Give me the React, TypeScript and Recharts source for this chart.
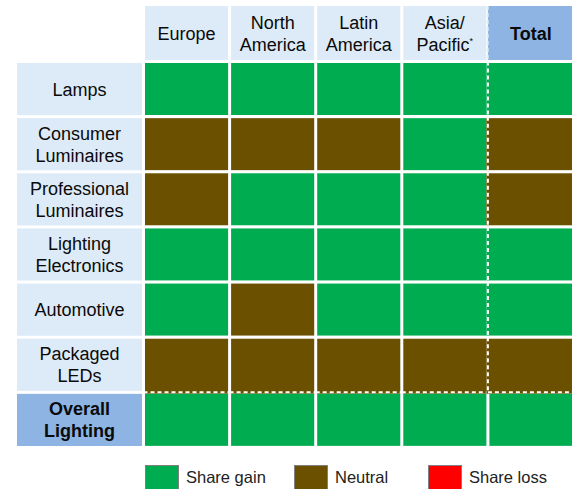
import { BarChart, Bar, XAxis, YAxis, Legend } from "recharts";

const ROWS = [
  "Lamps",
  "Consumer Luminaires",
  "Professional Luminaires",
  "Lighting Electronics",
  "Automotive",
  "Packaged LEDs",
  "Overall Lighting",
];
const ROW_LINES = [
  ["Lamps"],
  ["Consumer", "Luminaires"],
  ["Professional", "Luminaires"],
  ["Lighting", "Electronics"],
  ["Automotive"],
  ["Packaged", "LEDs"],
  ["Overall", "Lighting"],
];

const COLUMNS = ["Europe", "North America", "Latin America", "Asia/Pacific", "Total"];
const COLUMN_KEYS = ["europe", "northAmerica", "latinAmerica", "asiaPacific", "total"];
const COLUMN_LINES = [["Europe"], ["North", "America"], ["Latin", "America"], ["Asia/", "Pacific"], ["Total"]];

// share development per region, one entry per row
const EUROPE = ["gain", "neutral", "neutral", "gain", "gain", "neutral", "gain"];
const NORTH_AMERICA = ["gain", "neutral", "gain", "gain", "neutral", "neutral", "gain"];
const LATIN_AMERICA = ["gain", "neutral", "gain", "gain", "gain", "neutral", "gain"];
const ASIA_PACIFIC = ["gain", "gain", "gain", "gain", "gain", "neutral", "gain"];
const TOTAL = ["gain", "neutral", "neutral", "gain", "gain", "neutral", "gain"];
const STATUS = [EUROPE, NORTH_AMERICA, LATIN_AMERICA, ASIA_PACIFIC, TOTAL];

const LEGEND_ITEMS = [
  { key: "gain", label: "Share gain" },
  { key: "neutral", label: "Neutral" },
  { key: "loss", label: "Share loss" },
];

const COLORS: Record<string, string> = {
  gain: "#00AC50",
  neutral: "#6B5000",
  loss: "#FF0000",
};

const LIGHT_BLUE = "#DDEBF8";
const DARK_BLUE = "#8DB4E2";
const FONT = "'Liberation Sans', Arial, sans-serif";

const W = 574;
const H = 489;
const PLOT_LEFT = 143.5;
const PLOT_TOP = 61.5;
const PLOT_BOTTOM = 447.5;
const LEGEND_H = 25;
const ROW_H = (PLOT_BOTTOM - PLOT_TOP) / ROWS.length;
const COL_W = (W - PLOT_LEFT) / COLUMNS.length;
const GAP = 1.5;

const data = ROWS.map((row, i) => {
  const d: Record<string, any> = { row, idx: i };
  COLUMN_KEYS.forEach((k) => (d[k] = 1));
  return d;
});

const RowTick = (props: any) => {
  const { y, payload } = props;
  const i = ROWS.indexOf(payload.value);
  const lines = ROW_LINES[i];
  const bold = i === ROWS.length - 1;
  const top = y - ROW_H / 2 + GAP;
  return (
    <g>
      <rect x={17} y={top} width={125} height={ROW_H - 2 * GAP} fill={bold ? DARK_BLUE : LIGHT_BLUE} />
      <text
        x={79.5}
        textAnchor="middle"
        fontFamily={FONT}
        fontSize={18}
        fontWeight={bold ? "bold" : "normal"}
        fill="#0a0a0a"
      >
        {lines.map((l, k) => (
          <tspan key={k} x={79.5} y={y + 6.5 + (k - (lines.length - 1) / 2) * 22}>
            {l}
          </tspan>
        ))}
      </text>
    </g>
  );
};

const HeaderTick = (props: any) => {
  const { x, payload } = props;
  const c = Math.floor(payload.value);
  const lines = COLUMN_LINES[c];
  const isTotal = c === COLUMNS.length - 1;
  const left = x - COL_W / 2 + (isTotal ? 0 : GAP);
  const width = COL_W - (isTotal ? GAP : 2 * GAP);
  return (
    <g>
      <rect x={left} y={6} width={width} height={54} fill={isTotal ? DARK_BLUE : LIGHT_BLUE} />
      {isTotal && (
        <line x1={left} x2={left} y1={6} y2={60} stroke={LIGHT_BLUE} strokeWidth={1.5} strokeDasharray="4 3" />
      )}
      <text
        x={x}
        textAnchor="middle"
        fontFamily={FONT}
        fontSize={18}
        fontWeight={isTotal ? "bold" : "normal"}
        fill="#0a0a0a"
      >
        {lines.map((l, k) => (
          <tspan key={k} x={x} y={33 + 6.5 + (k - (lines.length - 1) / 2) * 22}>
            {l}
            {c === 3 && k === 1 ? (
              <tspan dy={-7} fontSize={9}>
                *
              </tspan>
            ) : null}
          </tspan>
        ))}
      </text>
    </g>
  );
};

const makeShape = (c: number) => (props: any) => {
  const { x, y, width, height, index } = props;
  const status = STATUS[c][index];
  const lastCol = c === COLUMNS.length - 1;
  const lastRow = index === ROWS.length - 1;
  const dashLeft = lastCol && !lastRow;
  const dashBottom = index === ROWS.length - 2;
  const rx = x + (dashLeft ? -GAP : GAP);
  const rw = width - GAP - (dashLeft ? -GAP : GAP);
  const ry = y + GAP;
  const rh = height - GAP - (dashBottom ? -GAP : GAP);
  return (
    <g>
      <rect x={rx} y={ry} width={rw} height={rh} fill={COLORS[status]} />
      {dashLeft && (
        <line x1={x} x2={x} y1={y} y2={y + height} stroke="#fff" strokeWidth={2} strokeDasharray="4 3" />
      )}
      {dashBottom && (
        <line x1={x} x2={x + width} y1={y + height} y2={y + height} stroke="#fff" strokeWidth={2} strokeDasharray="4 3" />
      )}
    </g>
  );
};

const LegendContent = () => (
  <div style={{ display: "flex", fontFamily: FONT, fontSize: 16.5, color: "#222", paddingLeft: 145, height: LEGEND_H }}>
    {LEGEND_ITEMS.map((item, i) => (
      <div key={item.key} style={{ display: "flex", alignItems: "center", width: i === 0 ? 149 : 134 }}>
        <span
          style={{
            display: "inline-block",
            width: 32,
            height: 23,
            background: COLORS[item.key],
            border: "1.5px solid #808080",
            marginRight: 7,
          }}
        />
        <span>{item.label}</span>
      </div>
    ))}
  </div>
);

export default function App() {
  return (
    <div style={{ position: "absolute", left: 0, top: 0, width: 572, height: 489, overflow: "hidden", background: "#fff" }}>
      <BarChart
        width={W}
        height={H}
        data={data}
        layout="vertical"
        barCategoryGap={0}
        barGap={0}
        margin={{ top: 0, right: 0, bottom: H - PLOT_BOTTOM - LEGEND_H, left: 0 }}
      >
        <XAxis
          type="number"
          orientation="top"
          domain={[0, COLUMNS.length]}
          ticks={COLUMNS.map((_, i) => i + 0.5)}
          height={PLOT_TOP}
          axisLine={false}
          tickLine={false}
          tick={<HeaderTick />}
          interval={0}
        />
        <YAxis
          type="category"
          dataKey="row"
          width={PLOT_LEFT}
          axisLine={false}
          tickLine={false}
          tick={<RowTick />}
          interval={0}
        />
        {COLUMN_KEYS.map((k, c) => (
          <Bar key={k} dataKey={k} name={COLUMNS[c]} stackId="a" isAnimationActive={false} shape={makeShape(c)} />
        ))}
        <Legend
          content={<LegendContent />}
          wrapperStyle={{ position: "absolute", left: 0, top: 465, width: 572, height: LEGEND_H }}
        />
      </BarChart>
    </div>
  );
}
